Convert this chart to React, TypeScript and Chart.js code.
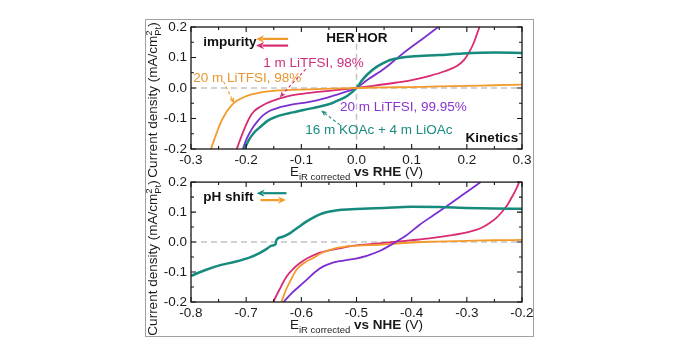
import React, { useEffect, useRef } from 'react';
import { Chart, registerables } from 'chart.js';
Chart.register(...registerables);

const FONT = '"Liberation Sans", Arial, Helvetica, sans-serif';

// ---------- axis ticks ----------
const TOP_X_TICKS = [-0.3, -0.2, -0.1, 0.0, 0.1, 0.2, 0.3];
const BOT_X_TICKS = [-0.8, -0.7, -0.6, -0.5, -0.4, -0.3, -0.2];
const Y_TICKS = [-0.2, -0.1, 0.0, 0.1, 0.2];

// ---------- top panel (vs RHE) ----------
const TOP_ORANGE_X = [-0.264, -0.258, -0.252, -0.246, -0.24, -0.234, -0.228, -0.22, -0.21, -0.2, -0.19, -0.175, -0.16, -0.14, -0.1, -0.06, -0.03, 0, 0.05, 0.1, 0.15, 0.2, 0.25, 0.3];
const TOP_ORANGE_Y = [-0.2, -0.17, -0.14, -0.113, -0.092, -0.074, -0.06, -0.046, -0.035, -0.027, -0.021, -0.015, -0.011, -0.008, -0.005, -0.003, -0.0015, 0, 0.002, 0.003, 0.005, 0.007, 0.009, 0.011];

const TOP_MAGENTA_X = [-0.217, -0.21, -0.2, -0.193, -0.185, -0.175, -0.163, -0.15, -0.139, -0.12, -0.09, -0.06, -0.042, -0.02, 0, 0.03, 0.073, 0.1, 0.133, 0.16, 0.182, 0.195, 0.205, 0.213, 0.218, 0.223];
const TOP_MAGENTA_Y = [-0.2, -0.165, -0.12, -0.094, -0.075, -0.062, -0.05, -0.041, -0.034, -0.025, -0.017, -0.011, -0.008, -0.004, 0, 0.007, 0.018, 0.026, 0.04, 0.055, 0.072, 0.092, 0.12, 0.15, 0.175, 0.2];

const TOP_PURPLE_X = [-0.206, -0.2, -0.193, -0.187, -0.178, -0.169, -0.155, -0.139, -0.12, -0.09, -0.07, -0.054, -0.035, -0.02, 0, 0.02, 0.05, 0.077, 0.1, 0.125, 0.148];
const TOP_PURPLE_Y = [-0.2, -0.17, -0.145, -0.127, -0.106, -0.089, -0.073, -0.063, -0.055, -0.047, -0.04, -0.032, -0.022, -0.013, 0, 0.027, 0.063, 0.103, 0.135, 0.168, 0.2];

const TOP_TEAL_X = [-0.203, -0.195, -0.185, -0.174, -0.16, -0.145, -0.135, -0.115, -0.096, -0.07, -0.048, -0.03, -0.017, 0, 0.01, 0.02, 0.037, 0.05, 0.061, 0.08, 0.1, 0.15, 0.193, 0.25, 0.3];
const TOP_TEAL_Y = [-0.2, -0.17, -0.145, -0.127, -0.106, -0.094, -0.088, -0.08, -0.072, -0.062, -0.052, -0.038, -0.026, 0, 0.025, 0.045, 0.07, 0.083, 0.092, 0.099, 0.103, 0.108, 0.113, 0.116, 0.115];

// ---------- bottom panel (vs NHE) ----------
const BOT_TEAL_X = [-0.8, -0.775, -0.747, -0.72, -0.693, -0.675, -0.662, -0.654, -0.647, -0.645, -0.635, -0.621, -0.605, -0.591, -0.575, -0.561, -0.545, -0.531, -0.5, -0.45, -0.4, -0.35, -0.3, -0.25, -0.2];
const BOT_TEAL_Y = [-0.113, -0.094, -0.077, -0.066, -0.051, -0.036, -0.022, -0.012, -0.008, 0.007, 0.017, 0.029, 0.05, 0.068, 0.085, 0.096, 0.103, 0.107, 0.11, 0.114, 0.118, 0.117, 0.114, 0.112, 0.111];

const BOT_ORANGE_X = [-0.636, -0.628, -0.62, -0.609, -0.595, -0.579, -0.565, -0.549, -0.531, -0.5, -0.458, -0.42, -0.368, -0.3, -0.25, -0.2];
const BOT_ORANGE_Y = [-0.2, -0.16, -0.13, -0.093, -0.07, -0.054, -0.038, -0.027, -0.018, -0.012, -0.009, -0.004, 0.001, 0.004, 0.006, 0.007];

const BOT_MAGENTA_X = [-0.651, -0.64, -0.627, -0.615, -0.603, -0.59, -0.573, -0.55, -0.531, -0.513, -0.48, -0.45, -0.428, -0.4, -0.368, -0.33, -0.296, -0.275, -0.26, -0.247, -0.236, -0.226, -0.218, -0.211, -0.205];
const BOT_MAGENTA_Y = [-0.2, -0.16, -0.116, -0.09, -0.071, -0.055, -0.04, -0.028, -0.021, -0.014, -0.008, -0.003, 0.001, 0.006, 0.012, 0.022, 0.034, 0.046, 0.062, 0.08, 0.101, 0.125, 0.151, 0.175, 0.2];

const BOT_PURPLE_X = [-0.632, -0.62, -0.605, -0.591, -0.575, -0.561, -0.545, -0.531, -0.515, -0.501, -0.48, -0.458, -0.44, -0.428, -0.41, -0.386, -0.36, -0.338, -0.308, -0.275];
const BOT_PURPLE_Y = [-0.2, -0.175, -0.15, -0.127, -0.1, -0.082, -0.07, -0.064, -0.059, -0.055, -0.045, -0.03, -0.012, 0.001, 0.022, 0.057, 0.09, 0.118, 0.157, 0.2];

const ORANGE = '#f29a2a';
const MAGENTA = '#d92b74';
const PURPLE = '#7b2fd0';
const TEAL = '#178a7e';
const ORANGE_T = '#ea962f';
const MAGENTA_T = '#cf2d7c';
const PURPLE_T = '#8a34cf';
const TEAL_T = '#1c8b80';

const pts = (xs: number[], ys: number[]) => xs.map((x, i) => ({ x, y: ys[i] }));

type Txt = { text: string; x: number; y: number; color: string; bold?: boolean; align?: CanvasTextAlign };
type Arw = { x1: number; y1: number; x2: number; y2: number; color: string; dashed?: boolean };
type Part = { t: string; size: number; bold?: boolean; shift?: number; stackWithPrev?: boolean };
type Panel = {
  id: string;
  xMin: number; xMax: number; xTicks: number[];
  datasets: { data: { x: number; y: number }[]; color: string; width: number }[];
  texts: Txt[];
  arrows: Arw[];
  vline?: { x: number; y1: number; y2: number };
  xTitle: Part[];
  yTitleCenterY: number;
  padTop: number;
  xAxisHeight: number;
  canvasH: number;
};

const X_TITLE_TOP: Part[] = [
  { t: 'E', size: 13.5 },
  { t: 'iR corrected', size: 9.5, shift: 4 },
  { t: ' vs RHE', size: 13.5, bold: true },
  { t: ' (V)', size: 13.5 },
];
const X_TITLE_BOT: Part[] = [
  { t: 'E', size: 13.5 },
  { t: 'iR corrected', size: 9.5, shift: 4 },
  { t: ' vs NHE', size: 13.5, bold: true },
  { t: ' (V)', size: 13.5 },
];
const Y_TITLE: Part[] = [
  { t: 'Current density (mA/cm', size: 13.5 },
  { t: '2', size: 9.5, shift: -5 },
  { t: 'Pt', size: 9.5, shift: 4, stackWithPrev: true },
  { t: ')', size: 13.5 },
];

function fontOf(p: Part) {
  return `${p.bold ? 'bold ' : ''}${p.size}px ${FONT}`;
}

function drawParts(ctx: CanvasRenderingContext2D, parts: Part[], cx: number, cy: number, color: string) {
  const widths: number[] = [];
  parts.forEach((p) => {
    ctx.font = fontOf(p);
    widths.push(ctx.measureText(p.t).width);
  });
  let total = 0;
  parts.forEach((p, i) => {
    if (p.stackWithPrev) total += Math.max(0, widths[i] - widths[i - 1]);
    else total += widths[i];
  });
  let x = cx - total / 2;
  let prevStart = x;
  ctx.fillStyle = color;
  ctx.textBaseline = 'alphabetic';
  ctx.textAlign = 'left';
  parts.forEach((p, i) => {
    ctx.font = fontOf(p);
    if (p.stackWithPrev) {
      ctx.fillText(p.t, prevStart, cy + (p.shift || 0));
      x = prevStart + Math.max(widths[i], widths[i - 1]);
    } else {
      ctx.fillText(p.t, x, cy + (p.shift || 0));
      prevStart = x;
      x += widths[i];
    }
  });
}

function drawArrow(ctx: CanvasRenderingContext2D, x1: number, y1: number, x2: number, y2: number, color: string, dashed?: boolean) {
  const ang = Math.atan2(y2 - y1, x2 - x1);
  const hl = dashed ? 6 : 8;
  const hw = dashed ? 2.6 : 3.6;
  ctx.save();
  ctx.strokeStyle = color;
  ctx.fillStyle = color;
  ctx.lineWidth = dashed ? 1.1 : 2.2;
  if (dashed) ctx.setLineDash([3, 2.5]);
  ctx.beginPath();
  ctx.moveTo(x1, y1);
  ctx.lineTo(x2 - Math.cos(ang) * hl * 0.8, y2 - Math.sin(ang) * hl * 0.8);
  ctx.stroke();
  ctx.setLineDash([]);
  ctx.beginPath();
  ctx.moveTo(x2, y2);
  ctx.lineTo(x2 - Math.cos(ang) * hl + Math.sin(ang) * hw, y2 - Math.sin(ang) * hl - Math.cos(ang) * hw);
  ctx.lineTo(x2 - Math.cos(ang) * hl * 0.7, y2 - Math.sin(ang) * hl * 0.7);
  ctx.lineTo(x2 - Math.cos(ang) * hl - Math.sin(ang) * hw, y2 - Math.sin(ang) * hl + Math.cos(ang) * hw);
  ctx.closePath();
  ctx.fill();
  ctx.restore();
}

function decorPlugin(cfg: Panel) {
  return {
    id: 'decor_' + cfg.id,
    beforeDatasetsDraw(chart: any) {
      const { ctx, chartArea: a, scales } = chart;
      const xs = scales.x, ys = scales.y;
      ctx.save();
      ctx.strokeStyle = '#c4c4c4';
      ctx.lineWidth = 1.5;
      ctx.setLineDash([6, 4]);
      const y0 = ys.getPixelForValue(0);
      ctx.beginPath();
      ctx.moveTo(a.left, y0);
      ctx.lineTo(a.right, y0);
      ctx.stroke();
      if (cfg.vline) {
        const x0 = xs.getPixelForValue(cfg.vline.x);
        ctx.beginPath();
        ctx.moveTo(x0, ys.getPixelForValue(cfg.vline.y1));
        ctx.lineTo(x0, ys.getPixelForValue(cfg.vline.y2));
        ctx.stroke();
      }
      ctx.restore();
    },
    afterDraw(chart: any) {
      const { ctx, chartArea: a, scales } = chart;
      const xs = scales.x, ys = scales.y;
      ctx.save();
      ctx.strokeStyle = '#161616';
      ctx.lineWidth = 1.3;
      ctx.strokeRect(a.left, a.top, a.right - a.left, a.bottom - a.top);
      ctx.lineWidth = 1.1;
      ctx.beginPath();
      const nx = Math.round((cfg.xMax - cfg.xMin) / 0.05);
      for (let i = 0; i <= nx; i++) {
        const v = cfg.xMin + i * 0.05;
        const px = xs.getPixelForValue(v);
        const len = i % 2 === 0 ? 5 : 3;
        ctx.moveTo(px, a.bottom); ctx.lineTo(px, a.bottom - len);
        ctx.moveTo(px, a.top); ctx.lineTo(px, a.top + len);
      }
      const ny = Math.round(0.4 / 0.05);
      for (let i = 0; i <= ny; i++) {
        const v = -0.2 + i * 0.05;
        const py = ys.getPixelForValue(v);
        const len = i % 2 === 0 ? 5 : 3;
        ctx.moveTo(a.left, py); ctx.lineTo(a.left + len, py);
        ctx.moveTo(a.right, py); ctx.lineTo(a.right - len, py);
      }
      ctx.stroke();
      cfg.texts.forEach((t) => {
        ctx.font = `${t.bold ? 'bold ' : ''}13.5px ${FONT}`;
        ctx.fillStyle = t.color;
        ctx.textAlign = t.align || 'left';
        ctx.textBaseline = 'middle';
        ctx.fillText(t.text, xs.getPixelForValue(t.x), ys.getPixelForValue(t.y));
      });
      cfg.arrows.forEach((r) => {
        drawArrow(ctx, xs.getPixelForValue(r.x1), ys.getPixelForValue(r.y1), xs.getPixelForValue(r.x2), ys.getPixelForValue(r.y2), r.color, r.dashed);
      });
      drawParts(ctx, cfg.xTitle, (a.left + a.right) / 2, a.bottom + 27, '#1a1a1a');
      ctx.save();
      ctx.translate(157, cfg.yTitleCenterY);
      ctx.rotate(-Math.PI / 2);
      drawParts(ctx, Y_TITLE, 0, 0, '#1a1a1a');
      ctx.restore();
      ctx.restore();
    },
  };
}

const TOP_PANEL: Panel = {
  id: 'top',
  xMin: -0.3, xMax: 0.3, xTicks: TOP_X_TICKS,
  datasets: [
    { data: pts(TOP_ORANGE_X, TOP_ORANGE_Y), color: ORANGE, width: 1.8 },
    { data: pts(TOP_TEAL_X, TOP_TEAL_Y), color: TEAL, width: 2.5 },
    { data: pts(TOP_PURPLE_X, TOP_PURPLE_Y), color: PURPLE, width: 1.8 },
    { data: pts(TOP_MAGENTA_X, TOP_MAGENTA_Y), color: MAGENTA, width: 1.8 },
  ],
  texts: [
    { text: 'impurity', x: -0.278, y: 0.151, color: '#111', bold: true },
    { text: 'HER', x: -0.003, y: 0.164, color: '#111', bold: true, align: 'right' },
    { text: 'HOR', x: 0.002, y: 0.164, color: '#111', bold: true, align: 'left' },
    { text: '1 m LiTFSI, 98%', x: -0.169, y: 0.082, color: MAGENTA_T },
    { text: '20 m LiTFSI, 98%', x: -0.296, y: 0.033, color: ORANGE_T },
    { text: '20 m LiTFSI, 99.95%', x: -0.03, y: -0.062, color: PURPLE_T },
    { text: '16 m KOAc + 4 m LiOAc', x: -0.093, y: -0.138, color: TEAL_T },
    { text: 'Kinetics', x: 0.293, y: -0.164, color: '#111', bold: true, align: 'right' },
  ],
  arrows: [
    { x1: -0.124, y1: 0.161, x2: -0.182, y2: 0.161, color: ORANGE },
    { x1: -0.124, y1: 0.139, x2: -0.182, y2: 0.139, color: MAGENTA },
    { x1: -0.241, y1: 0.021, x2: -0.222, y2: -0.05, color: ORANGE, dashed: true },
    { x1: -0.092, y1: 0.062, x2: -0.139, y2: -0.03, color: MAGENTA, dashed: true },
    { x1: -0.03, y1: -0.121, x2: -0.064, y2: -0.074, color: TEAL, dashed: true },
  ],
  vline: { x: 0, y1: 0.145, y2: -0.2 },
  xTitle: X_TITLE_TOP,
  yTitleCenterY: 100,
  padTop: 27,
  xAxisHeight: 36,
  canvasH: 185,
};

const BOT_PANEL: Panel = {
  id: 'bot',
  xMin: -0.8, xMax: -0.2, xTicks: BOT_X_TICKS,
  datasets: [
    { data: pts(BOT_TEAL_X, BOT_TEAL_Y), color: TEAL, width: 2.5 },
    { data: pts(BOT_PURPLE_X, BOT_PURPLE_Y), color: PURPLE, width: 1.8 },
    { data: pts(BOT_ORANGE_X, BOT_ORANGE_Y), color: ORANGE, width: 1.8 },
    { data: pts(BOT_MAGENTA_X, BOT_MAGENTA_Y), color: MAGENTA, width: 1.8 },
  ],
  texts: [
    { text: 'pH shift', x: -0.778, y: 0.15, color: '#111', bold: true },
  ],
  arrows: [
    { x1: -0.627, y1: 0.163, x2: -0.681, y2: 0.163, color: TEAL },
    { x1: -0.674, y1: 0.14, x2: -0.628, y2: 0.14, color: ORANGE },
  ],
  xTitle: X_TITLE_BOT,
  yTitleCenterY: 88,
  padTop: 12,
  xAxisHeight: 54,
  canvasH: 186,
};

function PanelChart({ cfg, top }: { cfg: Panel; top: number }) {
  const ref = useRef<HTMLCanvasElement | null>(null);
  useEffect(() => {
    if (!ref.current) return;
    const chart = new Chart(ref.current, {
      type: 'line',
      data: {
        datasets: cfg.datasets.map((d) => ({
          data: d.data,
          borderColor: d.color,
          backgroundColor: d.color,
          borderWidth: d.width,
          pointRadius: 0,
          cubicInterpolationMode: 'monotone' as const,
          fill: false,
        })),
      },
      options: {
        responsive: false,
        animation: false,
        devicePixelRatio: 1,
        layout: { padding: { left: 150, right: 158, top: cfg.padTop, bottom: 0 } },
        plugins: { legend: { display: false }, tooltip: { enabled: false } },
        scales: {
          x: {
            type: 'linear',
            min: cfg.xMin,
            max: cfg.xMax,
            grid: { display: false, drawTicks: false },
            border: { display: false },
            afterBuildTicks: (s: any) => { s.ticks = cfg.xTicks.map((v) => ({ value: v })); },
            afterFit: (s: any) => { s.height = cfg.xAxisHeight; },
            ticks: {
              autoSkip: false,
              maxRotation: 0,
              padding: 3,
              color: '#1a1a1a',
              font: { family: FONT, size: 13.5 },
              callback: (v: any) => Number(v).toFixed(1),
            },
          },
          y: {
            type: 'linear',
            min: -0.2,
            max: 0.2,
            grid: { display: false, drawTicks: false },
            border: { display: false },
            afterBuildTicks: (s: any) => { s.ticks = Y_TICKS.map((v) => ({ value: v })); },
            afterFit: (s: any) => { s.width = 41; },
            ticks: {
              autoSkip: false,
              padding: 4,
              color: '#1a1a1a',
              font: { family: FONT, size: 13.5 },
              callback: (v: any) => Number(v).toFixed(1),
            },
          },
        },
      } as any,
      plugins: [decorPlugin(cfg)],
    });
    return () => chart.destroy();
  }, [cfg]);
  return (
    <canvas
      ref={ref}
      width={680}
      height={cfg.canvasH}
      style={{ position: 'absolute', left: 0, top, width: 680, height: cfg.canvasH }}
    />
  );
}

export default function App() {
  return (
    <div style={{ position: 'absolute', left: 0, top: 0, width: 680, height: 356, background: '#fff', overflow: 'hidden' }}>
      <div
        style={{
          position: 'absolute', left: 145, top: 19, width: 389, height: 318,
          border: '1px solid #a0a0a0', boxSizing: 'border-box',
        }}
      />
      <PanelChart cfg={TOP_PANEL} top={0} />
      <PanelChart cfg={BOT_PANEL} top={170} />
    </div>
  );
}
